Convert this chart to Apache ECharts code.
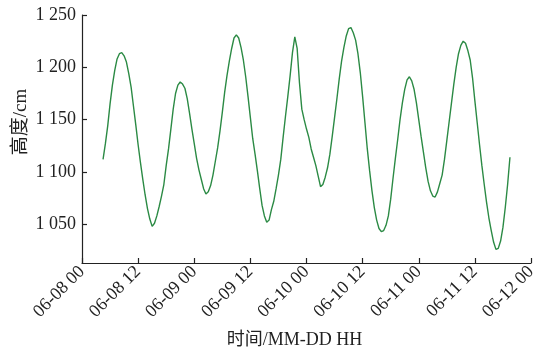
<!DOCTYPE html>
<html>
<head>
<meta charset="utf-8">
<script src="https://cdn.jsdelivr.net/npm/echarts@6/dist/echarts.min.js"></script>
<style>html,body{margin:0;padding:0;background:#fff}#c{width:549px;height:352px}</style>
</head>
<body>
<div id="c"></div>
<script>
// time stamps (MM-DD HH:mm), 30-min steps
const times = [
  '06-08 04:30','06-08 05:00','06-08 05:30','06-08 06:00','06-08 06:30','06-08 07:00','06-08 07:30','06-08 08:00','06-08 08:30','06-08 09:00','06-08 09:30','06-08 10:00','06-08 10:30','06-08 11:00','06-08 11:30','06-08 12:00','06-08 12:30','06-08 13:00','06-08 13:30','06-08 14:00','06-08 14:30','06-08 15:00','06-08 15:30','06-08 16:00','06-08 16:30','06-08 17:00','06-08 17:30','06-08 18:00','06-08 18:30','06-08 19:00','06-08 19:30','06-08 20:00','06-08 20:30','06-08 21:00','06-08 21:30','06-08 22:00','06-08 22:30','06-08 23:00','06-08 23:30',
  '06-09 00:00','06-09 00:30','06-09 01:00','06-09 01:30','06-09 02:00','06-09 02:30','06-09 03:00','06-09 03:30','06-09 04:00','06-09 04:30','06-09 05:00','06-09 05:30','06-09 06:00','06-09 06:30','06-09 07:00','06-09 07:30','06-09 08:00','06-09 08:30','06-09 09:00','06-09 09:30','06-09 10:00','06-09 10:30','06-09 11:00','06-09 11:30','06-09 12:00','06-09 12:30','06-09 13:00','06-09 13:30','06-09 14:00','06-09 14:30','06-09 15:00','06-09 15:30','06-09 16:00','06-09 16:30','06-09 17:00','06-09 17:30','06-09 18:00','06-09 18:30','06-09 19:00','06-09 19:30','06-09 20:00','06-09 20:30','06-09 21:00','06-09 21:30','06-09 22:00','06-09 22:30','06-09 23:00','06-09 23:30',
  '06-10 00:00','06-10 00:30','06-10 01:00','06-10 01:30','06-10 02:00','06-10 02:30','06-10 03:00','06-10 03:30','06-10 04:00','06-10 04:30','06-10 05:00','06-10 05:30','06-10 06:00','06-10 06:30','06-10 07:00','06-10 07:30','06-10 08:00','06-10 08:30','06-10 09:00','06-10 09:30','06-10 10:00','06-10 10:30','06-10 11:00','06-10 11:30','06-10 12:00','06-10 12:30','06-10 13:00','06-10 13:30','06-10 14:00','06-10 14:30','06-10 15:00','06-10 15:30','06-10 16:00','06-10 16:30','06-10 17:00','06-10 17:30','06-10 18:00','06-10 18:30','06-10 19:00','06-10 19:30','06-10 20:00','06-10 20:30','06-10 21:00','06-10 21:30','06-10 22:00','06-10 22:30','06-10 23:00','06-10 23:30',
  '06-11 00:00','06-11 00:30','06-11 01:00','06-11 01:30','06-11 02:00','06-11 02:30','06-11 03:00','06-11 03:30','06-11 04:00','06-11 04:30','06-11 05:00','06-11 05:30','06-11 06:00','06-11 06:30','06-11 07:00','06-11 07:30','06-11 08:00','06-11 08:30','06-11 09:00','06-11 09:30','06-11 10:00','06-11 10:30','06-11 11:00','06-11 11:30','06-11 12:00','06-11 12:30','06-11 13:00','06-11 13:30','06-11 14:00','06-11 14:30','06-11 15:00','06-11 15:30','06-11 16:00','06-11 16:30','06-11 17:00','06-11 17:30','06-11 18:00','06-11 18:30','06-11 19:00','06-11 19:30'
];

// water height (cm)
const heights = [
  1112,1127,1144,1165,1183,1197,1208,1213,1214,1211,1205,1194,1181,1163,1145,1126,1109,1093,1078,1065,1055,1048,1051,1058,1067,1077,1088,1106,1122,1141,1160,1175,1183,1186,1184,1180,1170,1156,1141,
  1127,1113,1102,1093,1084,1079,1081,1087,1097,1110,1123,1139,1157,1176,1192,1206,1218,1228,1231,1228,1219,1207,1191,1172,1152,1132,1117,1101,1084,1068,1058,1052,1054,1064,1072,1084,1097,1112,1133,1153,1172,1192,1214,1229,1218,1185,1160,1150,
  1141,1133,1122,1114,1106,1096,1086,1088,1095,1104,1117,1134,1152,1170,1189,1206,1219,1230,1237,1238,1233,1226,1213,1195,1172,1147,1122,1101,1082,1066,1054,1046,1043,1044,1049,1058,1074,1094,1113,1131,1150,1166,1179,1188,
  1191,1187,1179,1166,1150,1134,1119,1104,1091,1082,1077,1076,1081,1089,1097,1112,1130,1148,1166,1184,1200,1213,1221,1225,1223,1216,1207,1190,1168,1147,1126,1106,1088,1071,1056,1044,1033,1026,1027,1034,1047,1066,1088,1114
];

const xTickLabels = ['06-08 00','06-08 12','06-09 00','06-09 12','06-10 00','06-10 12','06-11 00','06-11 12','06-12 00'];
const yTickValues = [1050,1100,1150,1200,1250];
const yTickLabels = ['1 050','1 100','1 150','1 200','1 250'];

function toHours(s){
  const day = parseInt(s.slice(3,5),10);
  const hh = parseInt(s.slice(6,8),10);
  const mm = parseInt(s.slice(9,11),10);
  return (day-8)*24 + hh + mm/60;
}
const seriesData = times.map((t,i)=>[toHours(t), heights[i]]);

const FONT = "'Liberation Serif','Times New Roman','Noto Sans CJK SC',serif";
const chart = echarts.init(document.getElementById('c'), null, {renderer:'canvas'});
chart.setOption({
  animation:false,
  backgroundColor:'#fff',
  grid:{left:82,right:18,top:15,bottom:89,containLabel:false,outerBoundsMode:'none'},
  xAxis:{
    type:'value',min:0,max:96,interval:12,
    name:'时间/MM-DD HH',nameLocation:'middle',nameGap:68,
    nameTextStyle:{fontFamily:FONT,fontSize:18,color:'#222',padding:[0,24,0,0]},
    axisLine:{show:true,lineStyle:{color:'#222',width:1.2}},
    axisTick:{show:true,inside:true,length:5,lineStyle:{color:'#222',width:1.2}},
    splitLine:{show:false},
    axisLabel:{rotate:45,margin:6,fontFamily:FONT,fontSize:18,color:'#222',
      formatter:function(v){return xTickLabels[Math.round(v/12)];}}
  },
  yAxis:{
    type:'value',min:1013,max:1250,
    name:'高度/cm',nameLocation:'middle',nameGap:51,nameMoveOverlap:false,
    nameTextStyle:{fontFamily:FONT,fontSize:19,color:'#222',padding:[0,0,0,34]},
    axisLine:{show:true,lineStyle:{color:'#222',width:1.2}},
    axisTick:{show:true,inside:true,length:5,customValues:yTickValues,lineStyle:{color:'#222',width:1.2}},
    splitLine:{show:false},
    axisLabel:{margin:6,fontFamily:FONT,fontSize:18,color:'#222',customValues:yTickValues,
      formatter:function(v){const i=yTickValues.indexOf(v);return i>=0?yTickLabels[i]:'';}}
  },
  series:[{
    type:'line',data:seriesData,showSymbol:false,symbol:'none',
    lineStyle:{color:'#2b8a44',width:1.4}
  }]
});
</script>
</body>
</html>
